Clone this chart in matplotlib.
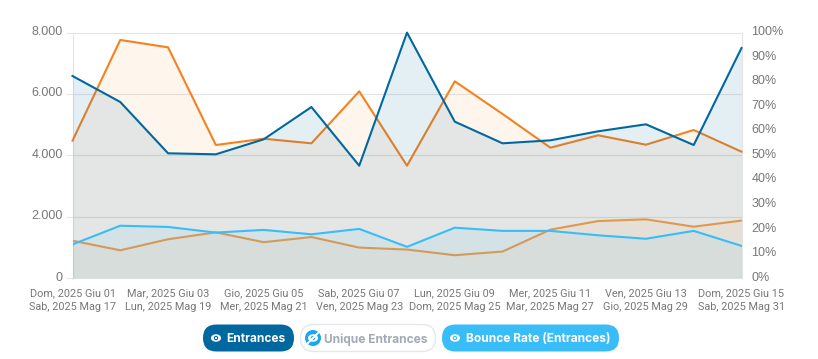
import matplotlib
matplotlib.use("Agg")
import matplotlib.pyplot as plt
from matplotlib.patches import FancyBboxPatch, Circle, Ellipse
from matplotlib.transforms import ScaledTranslation

W, H = 818, 359

# left axis, values
entrances = [6587, 5740, 4070, 4037, 4525, 5577, 3667, 8000, 5100, 4395, 4492, 4786, 5014, 4340, 7498]
entrances_prev = [4480, 7760, 7520, 4340, 4545, 4395, 6088, 3667, 6414, 5350, 4253, 4656, 4350, 4829, 4122]

# right axis, percent
bounce = [13.8, 21.4, 20.9, 18.6, 19.7, 17.9, 20.1, 12.8, 20.6, 19.3, 19.3, 17.5, 16.1, 19.3, 13.2]
bounce_prev = [15.3, 11.4, 15.9, 18.7, 14.7, 16.8, 12.5, 11.7, 9.4, 10.9, 19.8, 23.3, 24.0, 21.0, 23.5]

days = list(range(15))
tick_days = [0, 2, 4, 6, 8, 10, 12, 14]
tick_labels = [
    "Dom, 2025 Giu 01\nSab, 2025 Mag 17",
    "Mar, 2025 Giu 03\nLun, 2025 Mag 19",
    "Gio, 2025 Giu 05\nMer, 2025 Mag 21",
    "Sab, 2025 Giu 07\nVen, 2025 Mag 23",
    "Lun, 2025 Giu 09\nDom, 2025 Mag 25",
    "Mer, 2025 Giu 11\nMar, 2025 Mag 27",
    "Ven, 2025 Giu 13\nGio, 2025 Mag 29",
    "Dom, 2025 Giu 15\nSab, 2025 Mag 31",
]
left_ticks = [0, 2000, 4000, 6000, 8000]
left_labels = ["0", "2.000", "4.000", "6.000", "8.000"]
right_ticks = [0, 10, 20, 30, 40, 50, 60, 70, 80, 90, 100]
right_labels = [f"{v}%" for v in right_ticks]

DARK = "#00689f"
ORANGE = "#f5821f"
TAN = "#e0994f"
LIGHT = "#38bdf8"
GRID = "#e4e4e4"
TEXT = "#777777"

fig = plt.figure(figsize=(W / 100, H / 100), dpi=100)
ax = fig.add_axes([72.5 / W, 1 - 278.3 / H, 669 / W, 245.7 / H])
ax2 = ax.twinx()

ax.set_zorder(1)
ax2.set_zorder(2)
ax2.patch.set_visible(False)

ax.plot(days, entrances_prev, color=ORANGE, lw=1.5, zorder=3, clip_on=False)
ax.fill_between(days, entrances_prev, 0, color=ORANGE, alpha=0.08, lw=0, zorder=4)
ax.plot(days, entrances, color=DARK, lw=1.5, zorder=5, clip_on=False)
ax.fill_between(days, entrances, 0, color="#006f9f", alpha=0.105, lw=0, zorder=4)

ax2.plot(days, bounce_prev, color=TAN, lw=1.5, zorder=2)
ax2.fill_between(days, bounce_prev, 0, color=ORANGE, alpha=0.06, lw=0, zorder=3)
ax2.fill_between(days, bounce, 0, color=LIGHT, alpha=0.08, lw=0, zorder=3)
ax2.plot(days, bounce, color=LIGHT, lw=1.5, zorder=4)

ax.set_xlim(0, 14)
ax.set_ylim(0, 8000)
ax2.set_ylim(0, 100)

ax.set_yticks(left_ticks, left_labels)
ax2.set_yticks(right_ticks, right_labels)
ax.set_xticks(tick_days, tick_labels)
ax.grid(axis="y", color=GRID, lw=0.8, zorder=0)
ax.set_axisbelow(True)

for label in ax.get_xticklabels():
    label.set_fontfamily("Roboto")
    label.set_fontsize(7.8)
    label.set_color(TEXT)
    label.set_linespacing(1.45)
ax.tick_params(axis="x", length=0, pad=7)
ax.tick_params(axis="y", length=5, width=0.8, color=GRID, pad=2, labelsize=9, labelcolor=TEXT)
ax2.tick_params(axis="y", length=0, pad=7, labelsize=9, labelcolor=TEXT)

# tick labels sit a bit above their grid lines in the reference
shift = ScaledTranslation(0, 1.5 / 72, fig.dpi_scale_trans)
for label in ax.get_yticklabels() + ax2.get_yticklabels():
    label.set_fontfamily("Liberation Sans")
    label.set_transform(label.get_transform() + shift)

for a in (ax, ax2):
    for side in a.spines:
        a.spines[side].set_visible(False)
ax.spines["left"].set_visible(True)
ax.spines["left"].set_color(GRID)
ax.spines["left"].set_linewidth(0.8)
ax.spines["right"].set_visible(True)
ax.spines["right"].set_color(GRID)
ax.spines["right"].set_linewidth(0.8)

# legend pills, drawn in pixel coordinates
leg = fig.add_axes([0, 0, 1, 1], zorder=5)
leg.axis("off")


def eye(cx, cy, color, back):
    leg.add_patch(Ellipse((cx, cy), 10, 7.5, fc=color, ec="none"))
    leg.add_patch(Circle((cx, cy), 2.2, fc=back, ec="none"))
    leg.add_patch(Circle((cx, cy), 1.1, fc=color, ec="none"))


def pill_box(x0, x1, face, edge="none"):
    leg.add_patch(FancyBboxPatch((x0, 324.5), x1 - x0, 27,
                                 boxstyle="round,pad=0,rounding_size=13.5",
                                 fc=face, ec=edge, lw=1))


def pill_text(x, text, color):
    leg.text(x, 338, text, color=color, family="Inter", weight="bold",
             fontsize=8.6, va="center_baseline", ha="left")


pill_box(203, 294, DARK)
eye(216, 338, "white", DARK)
pill_text(226.5, "Entrances", "white")

pill_box(300.5, 435.5, "white", "#e5e7eb")
leg.add_patch(Circle((313, 338), 8, fc="#1ca7ec", ec="none"))
eye(313, 338, "white", "#1ca7ec")
leg.plot([308, 318], [343, 333], color="white", lw=1.4)
pill_text(323.5, "Unique Entrances", "#a3a9b8")

pill_box(442, 619, LIGHT)
eye(455, 338, "white", LIGHT)
pill_text(465.5, "Bounce Rate (Entrances)", "white")
leg.set_xlim(0, W)
leg.set_ylim(H, 0)

fig.savefig("out.png", dpi=100)
